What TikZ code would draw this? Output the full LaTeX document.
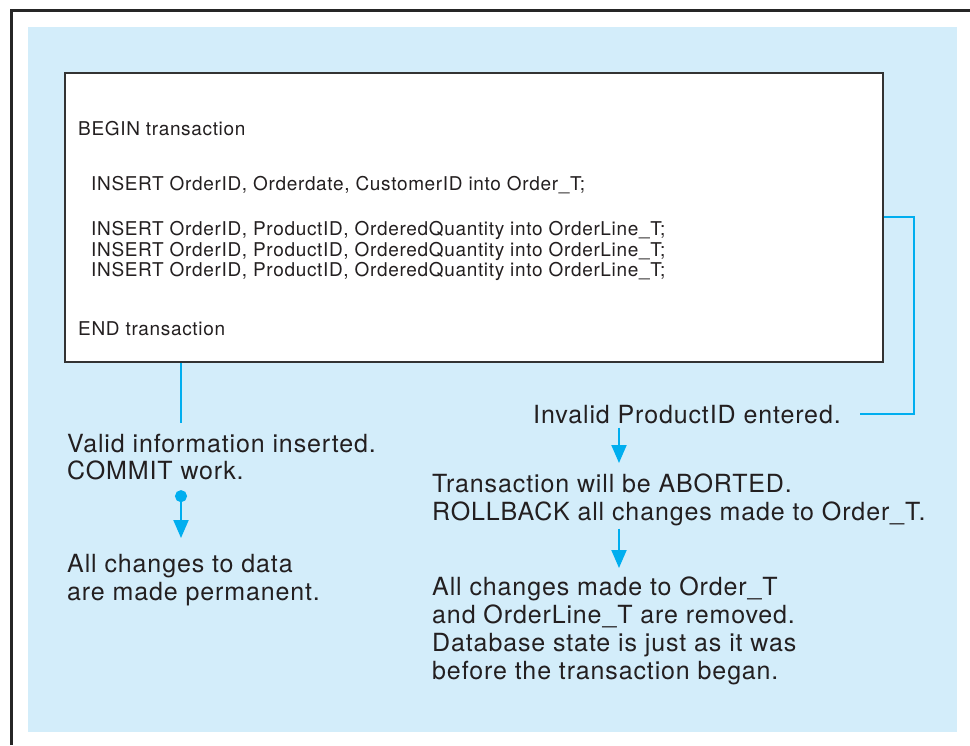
\documentclass[tikz,border=0pt]{standalone}
\usepackage{fontspec}
\setmainfont{TeX Gyre Heros}[LetterSpace=3.5]
\usetikzlibrary{positioning,arrows.meta}
\definecolor{paneblue}{RGB}{211,237,250}
\definecolor{flowcyan}{RGB}{0,174,239}
\definecolor{inkgray}{RGB}{35,31,32}

\begin{document}
\begin{tikzpicture}[x=1pt,y=-1pt,>={Triangle[length=18pt,width=15pt]},
  link/.style={draw=flowcyan,line width=2pt},
  note/.style={anchor=north west,inner sep=0pt,align=left,text=inkgray,font={\fontsize{25}{28}\selectfont}},
  sqltext/.style={anchor=north west,inner sep=0pt,align=left,text=inkgray,font={\fontsize{19}{20.5}\selectfont}}]
\useasboundingbox (0,0) rectangle (970,745);
\fill[paneblue] (28,27) rectangle (957,732);
\draw[line width=3pt,draw=black!85] (11,745) -- (11,10) -- (970,10);
\node[draw=black!80,line width=1.6pt,fill=white,minimum width=818pt,minimum height=289pt,anchor=north west] (code) at (64,72) {};
\node[sqltext] (sql) at (78,121.4) {BEGIN transaction\\[34.5pt]
  \hspace*{13pt}INSERT OrderID, Orderdate, CustomerID into Order\_T;\\[24.5pt]
  \hspace*{13pt}INSERT OrderID, ProductID, OrderedQuantity into OrderLine\_T;\\
  \hspace*{13pt}INSERT OrderID, ProductID, OrderedQuantity into OrderLine\_T;\\
  \hspace*{13pt}INSERT OrderID, ProductID, OrderedQuantity into OrderLine\_T;\\[38.5pt]
  END transaction};
% commit branch
\node[note] (valid) at (67,434) {Valid information inserted.\\[-1pt]COMMIT work.};
\node[note] (perm) at (67,554) {All changes to data\\are made permanent.};
% rollback branch
\node[note,anchor=base west] (invalid) at (533,423) {Invalid ProductID entered.};
\node[note] (abort) at (432,474) {Transaction will be ABORTED.\\ROLLBACK all changes made to Order\_T.};
\node[note] (removed) at (432,577) {All changes made to Order\_T\\and OrderLine\_T are removed.\\Database state is just as it was\\before the transaction began.};
\coordinate (commitx) at ([xshift=117pt]code.south west);
\coordinate (abortx) at ([xshift=187pt]abort.north west);
\draw[link,shorten >=11pt] (commitx) -- (commitx |- valid.north);
\draw[link,{Circle[length=12pt]}->,shorten <=10pt,shorten >=16pt] (commitx |- valid.south) -- (commitx |- perm.north);
\draw[link] ([yshift=-145pt]code.north east) -| ([xshift=73pt]invalid.east) -- ([xshift=19pt]invalid.east);
\draw[link,->,shorten <=4pt,shorten >=11pt] (abortx |- invalid.south) -- (abortx |- abort.north);
\draw[link,->,shorten <=2pt,shorten >=9pt] (abortx |- abort.south) -- (abortx |- removed.north);
\end{tikzpicture}
\end{document}
